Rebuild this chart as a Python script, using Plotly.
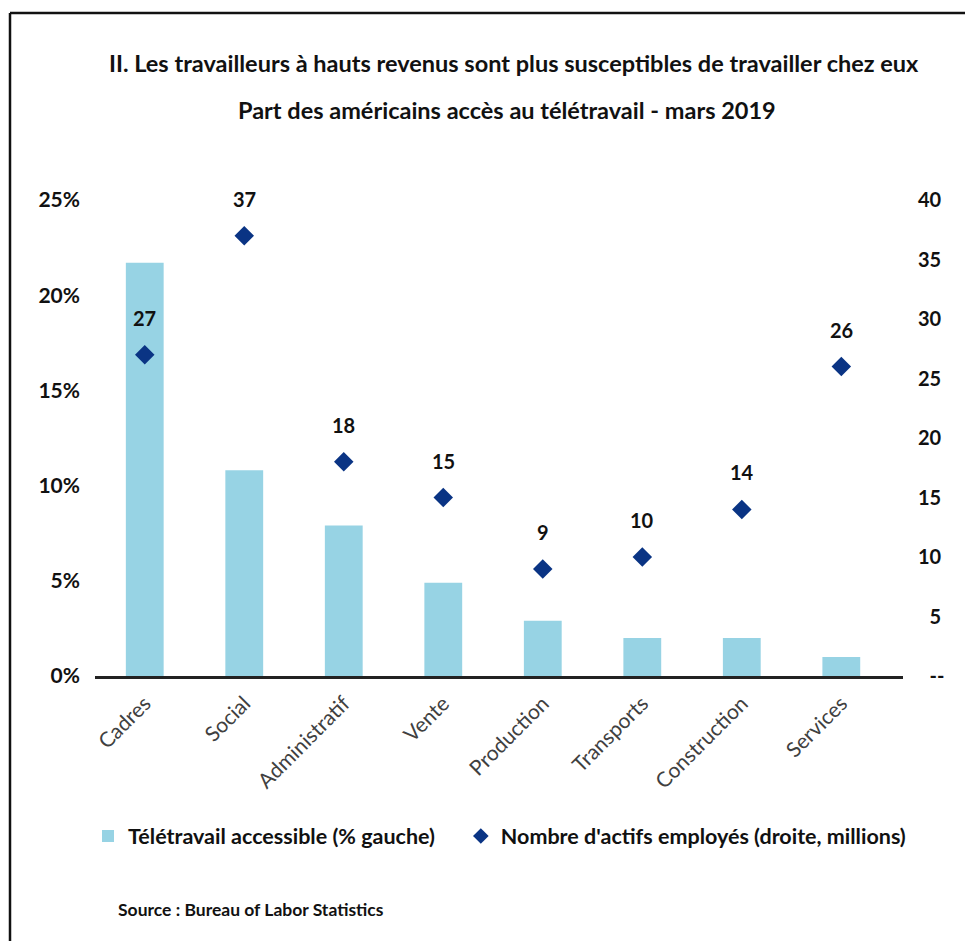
import plotly.graph_objects as go

# Data
categories = ["Cadres", "Social", "Administratif", "Vente", "Production",
              "Transports", "Construction", "Services"]
telework_pct = [21.7, 10.8, 7.9, 4.9, 2.9, 2.0, 2.0, 1.0]       # left axis, %
workers_millions = [27, 37, 18, 15, 9, 10, 14, 26]              # right axis, millions
left_ticks = [0, 5, 10, 15, 20, 25]
left_ticktext = ["0%", "5%", "10%", "15%", "20%", "25%"]
right_ticks = [0, 5, 10, 15, 20, 25, 30, 35, 40]
right_ticktext = ["\u2007--", "\u20075", "10", "15", "20", "25", "30", "35", "40"]

W, H = 965, 941
L, R, T, B = 95, 903, 200, 676
FONT = "Lato"
BAR_COLOR = "#97d3e4"
DOT_COLOR = "#0a3484"


def px(x):
    return (x - L) / (R - L)


def py(y):
    return (B - y) / (B - T)


fig = go.Figure()
fig.add_trace(go.Bar(
    x=list(range(len(categories))), y=telework_pct,
    width=0.38, marker=dict(color=BAR_COLOR, line=dict(width=0)),
    # trailing non-breaking spaces widen the gap before the next legend entry
    name="Télétravail accessible (% gauche)\u00a0\u00a0\u00a0\u00a0", yaxis="y",
))
fig.add_trace(go.Scatter(
    x=list(range(len(categories))), y=workers_millions,
    mode="markers", marker=dict(symbol="diamond", size=15, color=DOT_COLOR),
    name="Nombre d'actifs employés (droite, millions)", yaxis="y2",
))

annotations = []
for i, v in enumerate(workers_millions):
    annotations.append(dict(
        x=i, y=v, xref="x", yref="y2", text=f"<b>{v}</b>", showarrow=False,
        yshift=37, font=dict(family=FONT, size=20, color="#111111"),
    ))

annotations += [
    dict(x=px(514), y=py(63), xref="paper", yref="paper", showarrow=False,
         text="<b>II. Les travailleurs à hauts revenus sont plus susceptibles de travailler chez eux</b>",
         font=dict(family=FONT, size=23.5, color="#111111"), xanchor="center", yanchor="middle"),
    dict(x=px(507), y=py(110), xref="paper", yref="paper", showarrow=False,
         text="<b>Part des américains accès au télétravail - mars 2019</b>",
         font=dict(family=FONT, size=23.5, color="#111111"), xanchor="center", yanchor="middle"),
    dict(x=px(116), y=py(909), xref="paper", yref="paper", showarrow=False,
         text="<b>Source : Bureau of Labor Statistics</b>",
         font=dict(family=FONT, size=17.5, color="#111111"), xanchor="left", yanchor="middle"),
]

shapes = [
    # frame: top and left edges
    dict(type="line", xref="paper", yref="paper", x0=px(10), x1=px(965), y0=py(13), y1=py(13),
         line=dict(color="#111111", width=2.5)),
    dict(type="line", xref="paper", yref="paper", x0=px(10), x1=px(10), y0=py(13), y1=py(941),
         line=dict(color="#111111", width=2.5)),
]

fig.update_layout(
    width=W, height=H,
    margin=dict(l=L, r=W - R, t=T, b=H - B, pad=0),
    paper_bgcolor="white", plot_bgcolor="white",
    font=dict(family=FONT, color="#111111"),
    showlegend=True,
    legend=dict(orientation="h", x=px(88), y=py(836), xanchor="left", yanchor="middle",
                font=dict(family=FONT, size=21.5, color="#111111", weight="bold"),
                itemsizing="constant", bgcolor="rgba(0,0,0,0)"),
    xaxis=dict(
        range=[-0.5, 7.62], tickmode="array", tickvals=list(range(len(categories))),
        ticktext=categories, tickangle=-45, showgrid=False, zeroline=False,
        showline=True, linecolor="#222222", linewidth=3, ticks="",
        ticklabelstandoff=4,
        tickfont=dict(family=FONT, size=21, color="#404040"),
    ),
    yaxis=dict(
        range=[0, 25], tickmode="array", tickvals=left_ticks, ticktext=left_ticktext,
        showgrid=False, zeroline=False, showline=False, ticks="",
        ticklabelstandoff=14,
        tickfont=dict(family=FONT, size=21, color="#111111", weight="bold"),
    ),
    yaxis2=dict(
        range=[0, 40], overlaying="y", side="right", tickmode="array",
        tickvals=right_ticks, ticktext=right_ticktext, showgrid=False,
        zeroline=False, showline=False, ticks="", ticklabelstandoff=14,
        tickfont=dict(family=FONT, size=20, color="#111111", weight="bold"),
    ),
    annotations=annotations,
    shapes=shapes,
    bargap=0.62,
)

fig.write_html("out.html")
